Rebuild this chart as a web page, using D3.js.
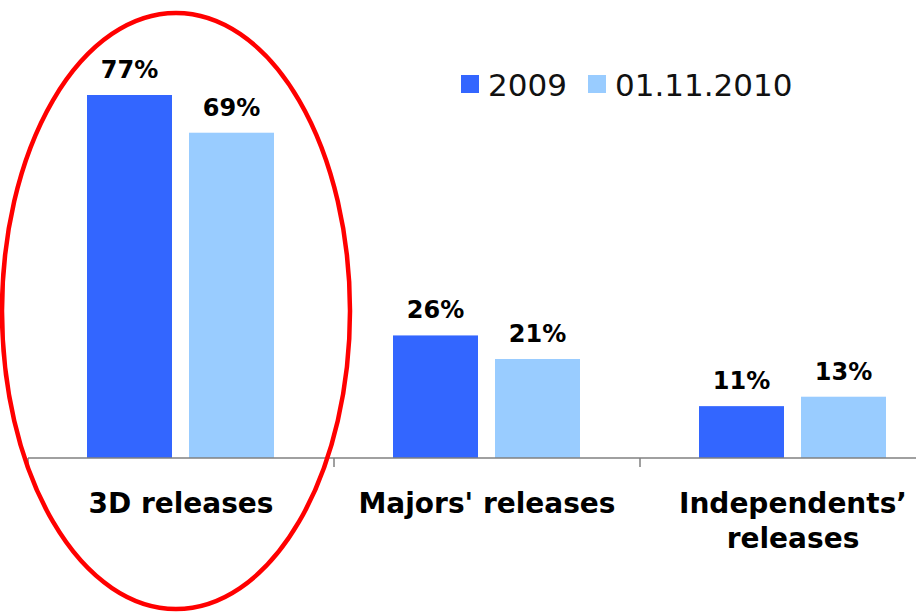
<!DOCTYPE html>
<html><head><meta charset="utf-8">
<script src="https://cdn.jsdelivr.net/npm/d3@7"></script>
<style>html,body{margin:0;padding:0;background:#fff}</style>
</head><body>
<svg id="c" width="916" height="613"></svg>
<script>
const categories = [["3D releases"], ["Majors' releases"], ["Independents\u2019", "releases"]];
const seriesNames = ["2009", "01.11.2010"];
const values2009 = [77, 26, 11];
const values2010 = [69, 21, 13];
const colors = ["#3366FF", "#99CCFF"];

const svg = d3.select("#c");
const font = "'DejaVu Sans', Verdana, sans-serif";
const baseY = 458;
const x = d3.scaleBand().domain(d3.range(categories.length)).range([28, 946]).padding(0);
const inner = d3.scaleBand().domain(seriesNames).range([59, 246]).paddingInner(0.1667);
const y = d3.scaleLinear().domain([0, 77]).range([baseY, 95]);

const data = categories.map((c, i) => ({ i, vals: [values2009[i], values2010[i]] }));

// bars
const g = svg.selectAll("g.cat").data(data).join("g").attr("class", "cat")
  .attr("transform", d => `translate(${x(d.i)},0)`);
g.selectAll("rect").data(d => d.vals.map((v, k) => ({ v, k }))).join("rect")
  .attr("x", d => inner(seriesNames[d.k]))
  .attr("width", inner.bandwidth())
  .attr("y", d => y(d.v))
  .attr("height", d => baseY - y(d.v))
  .attr("fill", d => colors[d.k]);
g.selectAll("text.val").data(d => d.vals.map((v, k) => ({ v, k }))).join("text")
  .attr("class", "val")
  .attr("x", d => inner(seriesNames[d.k]) + inner.bandwidth() / 2)
  .attr("y", d => y(d.v) - 17)
  .attr("text-anchor", "middle")
  .attr("font-family", font).attr("font-weight", "bold").attr("font-size", 24)
  .text(d => d.v + "%");

// axis
svg.append("line").attr("x1", 28).attr("x2", 916).attr("y1", baseY).attr("y2", baseY)
  .attr("stroke", "#808080").attr("stroke-width", 1.5);
svg.selectAll("line.tick").data(d3.range(categories.length)).join("line").attr("class", "tick")
  .attr("x1", i => x(i)).attr("x2", i => x(i)).attr("y1", baseY).attr("y2", baseY + 9)
  .attr("stroke", "#808080").attr("stroke-width", 1.5);

// category labels
const lab = svg.selectAll("text.cat").data(data).join("text").attr("class", "cat")
  .attr("text-anchor", "middle")
  .attr("font-family", font).attr("font-weight", "bold").attr("font-size", 28);
lab.selectAll("tspan").data(d => categories[d.i].map(t => ({ t, i: d.i }))).join("tspan")
  .attr("x", d => x(d.i) + x.bandwidth() / 2)
  .attr("y", (d, j) => 513 + j * 35)
  .text(d => d.t);

// legend
const legX = [461, 588];
const leg = svg.selectAll("g.leg").data(seriesNames).join("g").attr("class", "leg")
  .attr("transform", (d, i) => `translate(${legX[i]},75)`);
leg.append("rect").attr("width", 18).attr("height", 18).attr("fill", (d, i) => colors[i]);
leg.append("text").attr("x", 27).attr("y", 21)
  .attr("font-family", font).attr("font-size", 31).attr("fill", "#111").text(d => d);

// red ellipse
svg.append("ellipse").attr("cx", 176).attr("cy", 311).attr("rx", 174).attr("ry", 298)
  .attr("fill", "none").attr("stroke", "#FF0000").attr("stroke-width", 4.5);
</script>
</body></html>
